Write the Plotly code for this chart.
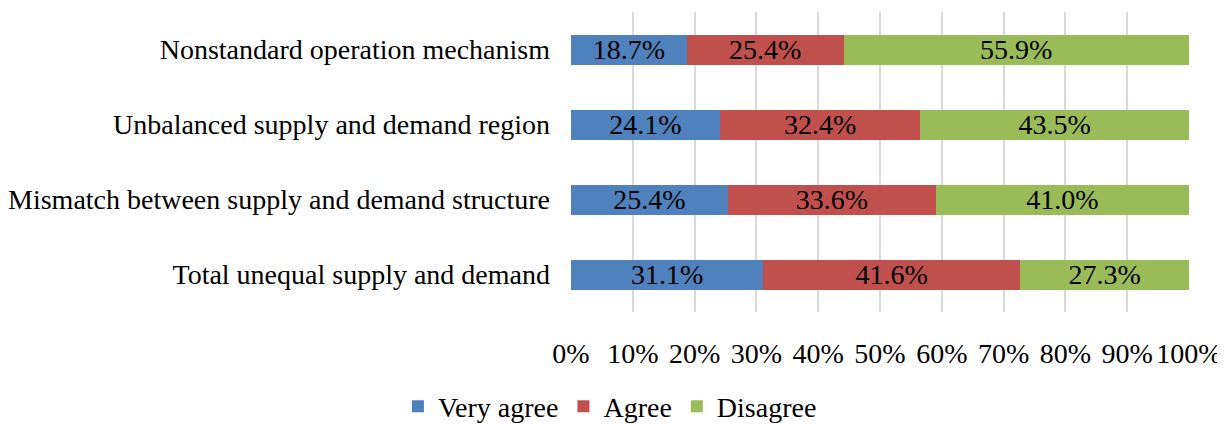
import plotly.graph_objects as go

categories = ["Total unequal supply and demand",
              "Mismatch between supply and demand structure",
              "Unbalanced supply and demand region",
              "Nonstandard operation mechanism"]
very_agree = [31.1, 25.4, 24.1, 18.7]
agree = [41.6, 33.6, 32.4, 25.4]
disagree = [27.3, 41.0, 43.5, 55.9]
series_names = ["Very agree", "Agree", "Disagree"]
colors = ["#4F81BD", "#C0504D", "#9BBB59"]
tick_vals = [0, 10, 20, 30, 40, 50, 60, 70, 80, 90, 100]
tick_text = [f"{v}%" for v in tick_vals]

FONT = "Liberation Serif, Times New Roman, serif"
FS = 28

fig = go.Figure()
for name, vals, col in zip(series_names, [very_agree, agree, disagree], colors):
    fig.add_trace(go.Bar(
        y=categories, x=vals, name=name, orientation="h",
        marker=dict(color=col, line=dict(width=0)),
        text=[f"{v:.1f}%" for v in vals],
        textposition="inside", insidetextanchor="middle",
        textfont=dict(family=FONT, size=FS, color="black"),
        width=0.4,
    ))

# page body has an 8px default margin, so the figure is sized to fit the window
fig.update_layout(
    barmode="stack",
    width=1217, height=417,
    margin=dict(l=563, r=36, t=4, b=113, autoexpand=False),
    plot_bgcolor="white", paper_bgcolor="white",
    font=dict(family=FONT, size=FS, color="black"),
    uniformtext=dict(mode="show", minsize=FS),
    showlegend=True,
    legend=dict(orientation="h", xref="paper", yref="paper",
                x=0.063, xanchor="center", y=-0.315, yanchor="middle",
                font=dict(family=FONT, size=FS), traceorder="normal",
                itemwidth=30, tracegroupgap=0),
    xaxis=dict(range=[0, 100], tickvals=tick_vals, ticktext=tick_text,
               showgrid=True, gridcolor="#D9D9D9", gridwidth=2,
               zeroline=False, showline=False, ticks="", automargin=False,
               ticklabelstandoff=22, fixedrange=True),
    yaxis=dict(showgrid=False, zeroline=False, showline=False, ticks="",
               automargin=False, ticklabelstandoff=20, range=[-0.5, 3.5]),
)
fig.write_html("out.html")
